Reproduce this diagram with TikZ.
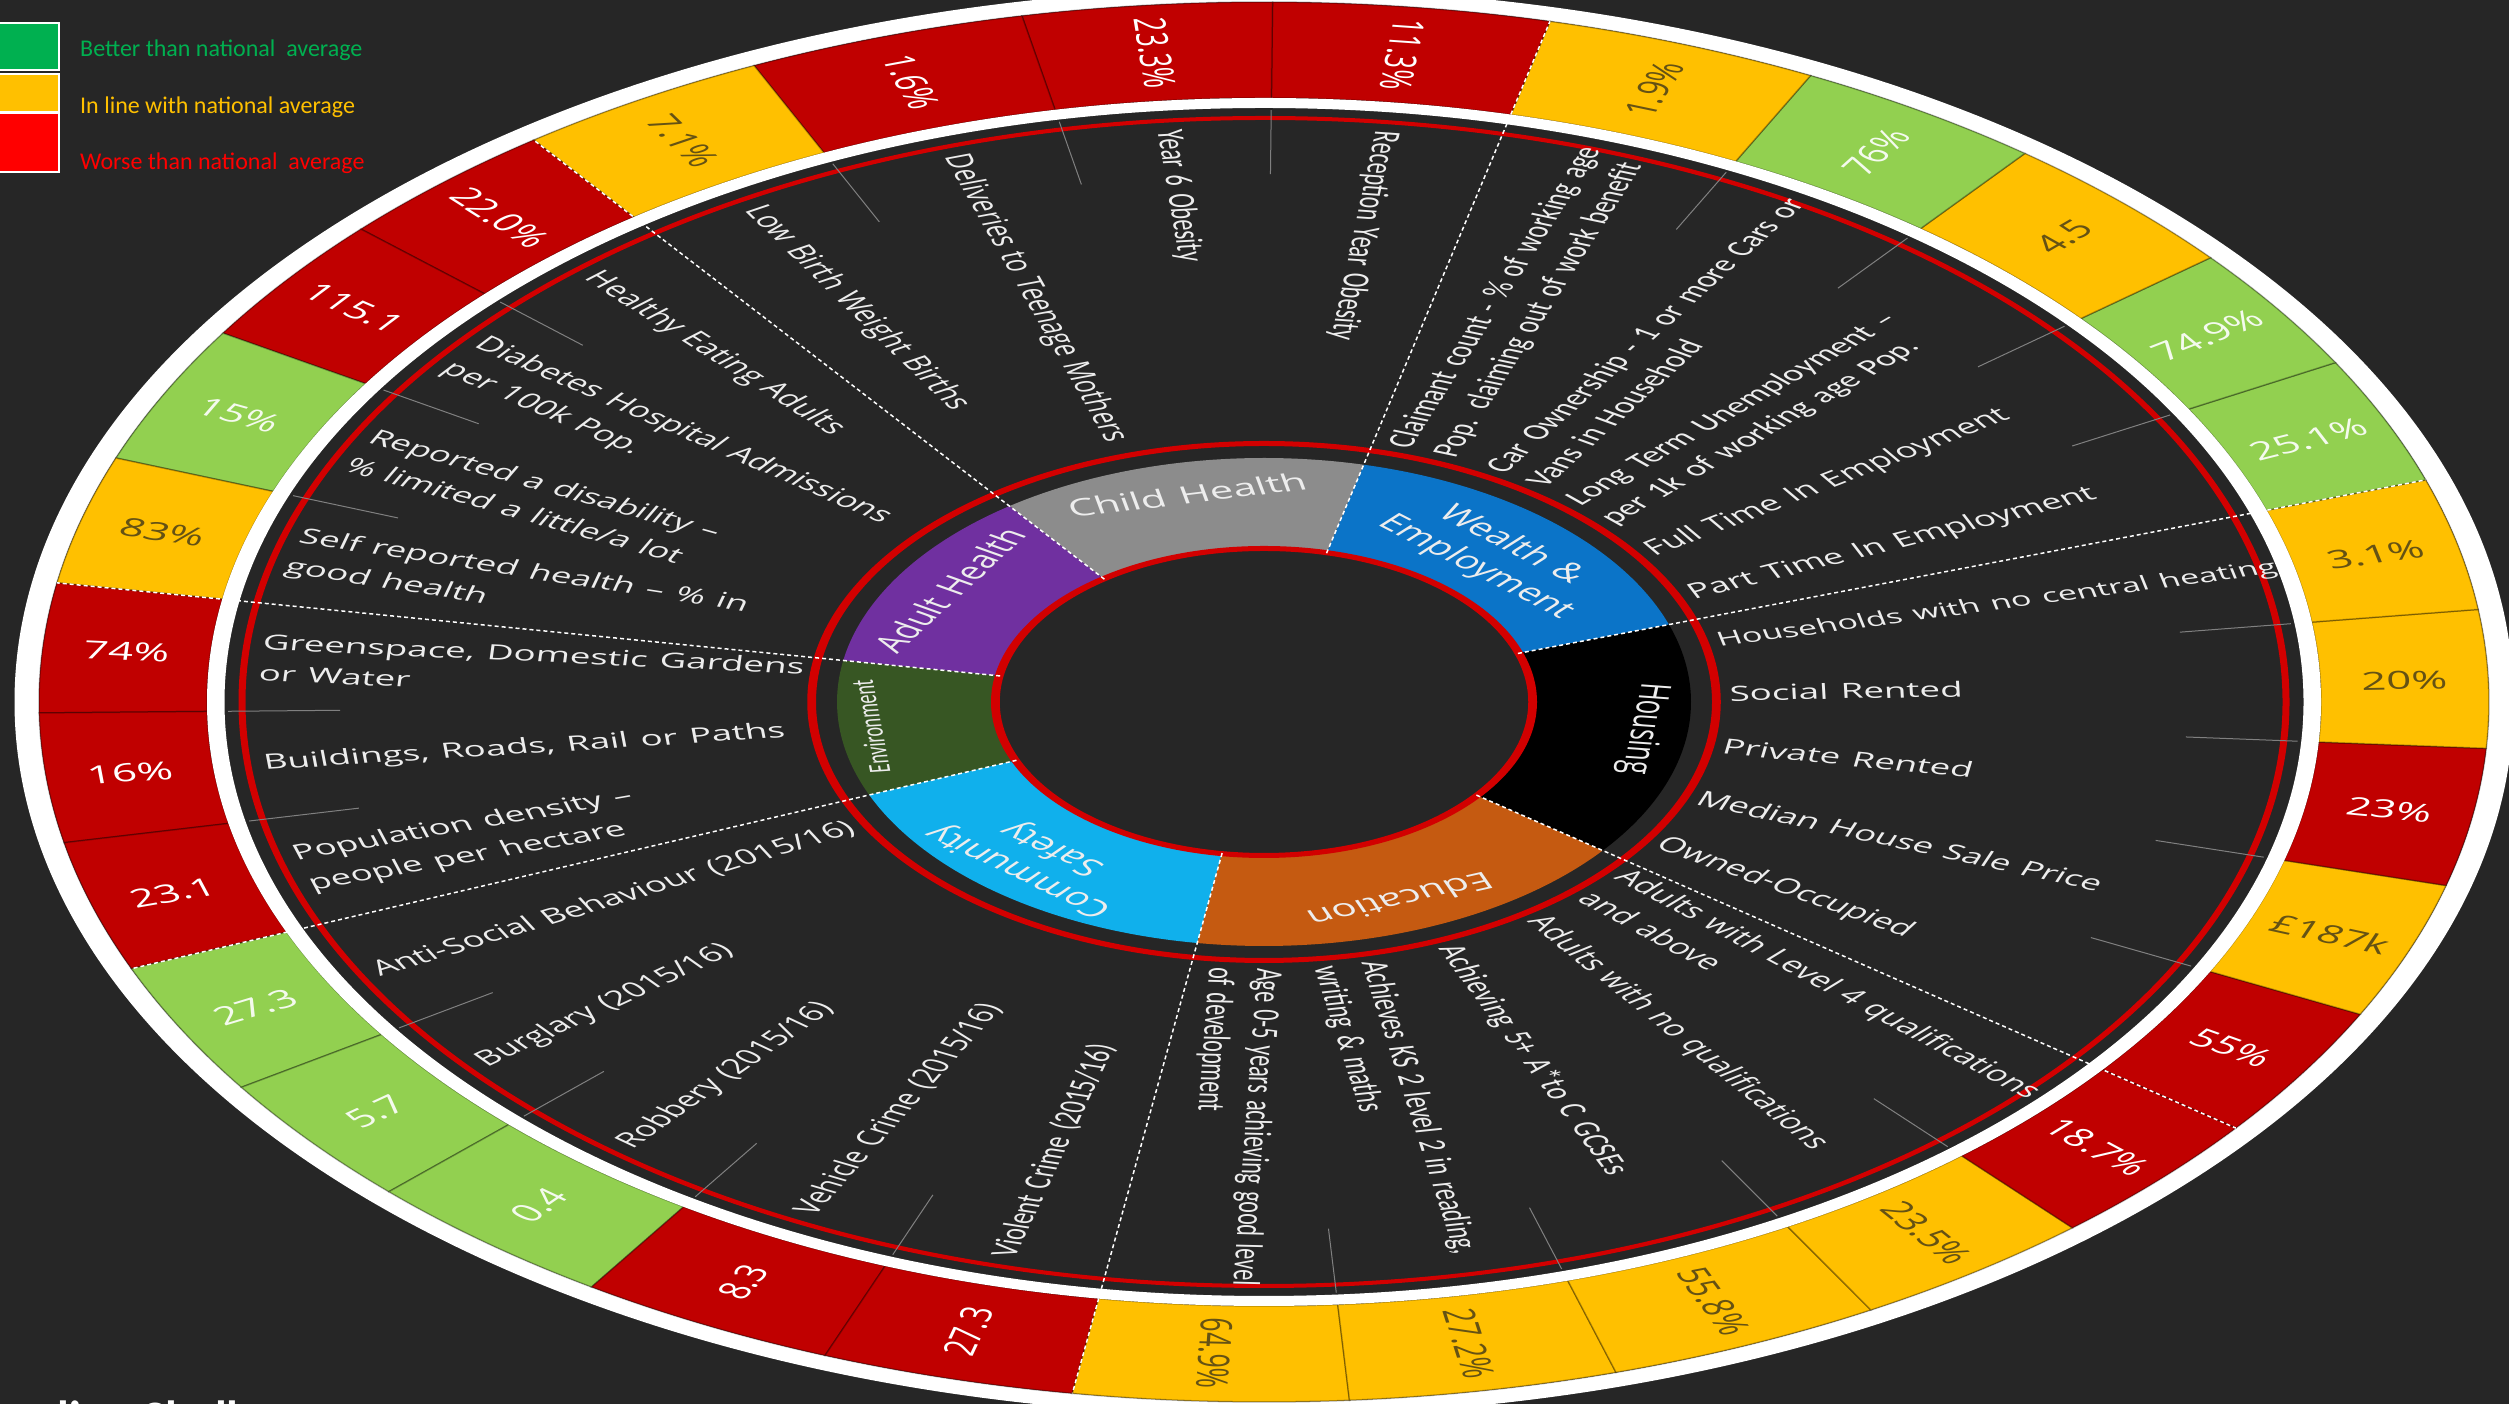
\documentclass[tikz,border=0pt]{standalone}
\usepackage{fontspec}
\setmainfont{Open Sans}
\newfontfamily\calfont{Carlito}
\usetikzlibrary{calc}

\definecolor{bgdark}{HTML}{262626}
\definecolor{ringred}{HTML}{C00000}
\definecolor{ringamber}{HTML}{FFC000}
\definecolor{ringgreen}{HTML}{92D050}
\definecolor{keygreen}{HTML}{00B050}
\definecolor{keyred}{HTML}{FF0000}
\definecolor{linered}{HTML}{D20000}
\definecolor{amberink}{HTML}{655214}
\definecolor{greenink}{HTML}{F4FAEE}
\definecolor{labelgrey}{HTML}{EDEDED}
\definecolor{childgrey}{HTML}{8C8C8C}
\definecolor{wealthblue}{HTML}{0B74C8}
\definecolor{eduorange}{HTML}{C55A11}
\definecolor{safetyblue}{HTML}{10B0EC}
\definecolor{envgreen}{HTML}{375623}
\definecolor{adultpurple}{HTML}{7030A0}

\tikzset{
  segment/.style={draw=black, draw opacity=0.3, line width=1.5pt},
  itemtext/.style={text=labelgrey, inner sep=0pt, text width=400pt, align=left},
  widefont/.style={font=\fontsize{21}{31}\selectfont},
  smallfont/.style={font=\fontsize{19.5}{28}\selectfont},
  narrowfont/.style={font=\calfont\fontsize{22}{27.5}\selectfont},
  valuetext/.style={inner sep=0pt, font=\fontsize{25}{28}\selectfont},
  cattext/.style={inner sep=0pt, text width=170pt, align=center, text=labelgrey, font=\fontsize{24}{30}\selectfont},
  catedge/.style={white, line width=1.5pt, dash pattern=on 4pt off 3pt},
  itemtick/.style={gray, line width=1pt},
  keybox/.style={draw=white, line width=2pt},
  keytext/.style={anchor=west, inner sep=0pt, font=\calfont\fontsize{24}{28}\selectfont},
}

% one wheel item: name, start, end, fill, ink, value, text turn, font, label
\newcommand{\wheelseg}[9]{%
  \filldraw[segment, fill=#4] (#2:604) arc[start angle=#2, end angle=#3, radius=604]
    -- (#3:700) arc[start angle=#3, end angle=#2, radius=700] -- cycle;}
\newcommand{\wheeltext}[9]{%
  \pgfmathsetmacro{\midang}{(#2+#3)/2}%
  \pgfmathsetmacro{\textturn}{\midang+#7}%
  \pgfmathsetmacro{\textrad}{266-309*#7/180}%
  \node[valuetext, text=#5, rotate=\textturn] (val#1) at (\midang:652) {#6};
  \node[itemtext, #8, anchor=west, rotate=\textturn] (item#1) at (\midang:\textrad) {#9};}

\newcommand{\wheeldata}{%
  \wheelitem{owned}{-37.5}{-26.5}{ringred}{white}{55\%}{0}{widefont}{Owned-Occupied}
  \wheelitem{median}{-26.5}{-15.2}{ringamber}{amberink}{£187k}{0}{widefont}{Median House Sale Price}
  \wheelitem{private}{-15.2}{-3.8}{ringred}{white}{23\%}{0}{widefont}{Private Rented}
  \wheelitem{social}{-3.8}{7.6}{ringamber}{amberink}{20\%}{0}{widefont}{Social Rented}
  \wheelitem{heating}{7.6}{18.5}{ringamber}{amberink}{3.1\%}{0}{smallfont}{Households with no central heating}
  \wheelitem{parttime}{18.5}{29}{ringgreen}{greenink}{25.1\%}{0}{widefont}{Part Time In Employment}
  \wheelitem{fulltime}{29}{39.4}{ringgreen}{greenink}{74.9\%}{0}{widefont}{Full Time In Employment}
  \wheelitem{longterm}{39.4}{51.6}{ringamber}{amberink}{4.5}{0}{narrowfont}{Long Term Unemployment –\\per 1k of working age Pop.}
  \wheelitem{cars}{51.6}{63.5}{ringgreen}{greenink}{76\%}{0}{narrowfont}{Car Ownership - 1 or more Cars or\\Vans in Household}
  \wheelitem{claimant}{63.5}{76.5}{ringamber}{amberink}{1.9\%}{0}{narrowfont}{Claimant count - \% of working age\\Pop. claiming out of work benefit}
  \wheelitem{reception}{76.5}{89.6}{ringred}{white}{11.3\%}{-180}{narrowfont}{Reception Year Obesity}
  \wheelitem{yearsix}{89.6}{101.4}{ringred}{white}{23.3\%}{-180}{narrowfont}{Year 6 Obesity}
  \wheelitem{teenage}{101.4}{114.6}{ringred}{white}{1.6\%}{-180}{widefont}{Deliveries to Teenage Mothers}
  \wheelitem{birthweight}{114.6}{126.6}{ringamber}{amberink}{7.1\%}{-180}{widefont}{Low Birth Weight Births}
  \wheelitem{eating}{126.6}{137.5}{ringred}{white}{22.0\%}{-180}{widefont}{Healthy Eating Adults}
  \wheelitem{diabetes}{137.5}{148.2}{ringred}{white}{115.1}{-180}{widefont}{Diabetes Hospital Admissions\\per 100k Pop.}
  \wheelitem{disability}{148.2}{159.6}{ringgreen}{greenink}{15\%}{-180}{widefont}{Reported a disability –\\\% limited a little/a lot}
  \wheelitem{selfhealth}{159.6}{170.2}{ringamber}{amberink}{83\%}{-180}{widefont}{Self reported health – \% in\\good health}
  \wheelitem{greenspace}{170.2}{180.9}{ringred}{white}{74\%}{-180}{widefont}{Greenspace, Domestic Gardens\\or Water}
  \wheelitem{buildings}{180.9}{191.6}{ringred}{white}{16\%}{-180}{widefont}{Buildings, Roads, Rail or Paths}
  \wheelitem{density}{191.6}{202.4}{ringred}{white}{23.1}{-180}{widefont}{Population density –\\people per hectare}
  \wheelitem{antisocial}{202.4}{213.4}{ringgreen}{greenink}{27.3}{-180}{widefont}{Anti-Social Behaviour (2015/16)}
  \wheelitem{burglary}{213.4}{224.4}{ringgreen}{greenink}{5.7}{-180}{widefont}{Burglary (2015/16)}
  \wheelitem{robbery}{224.4}{236.7}{ringgreen}{greenink}{0.4}{-180}{widefont}{Robbery (2015/16)}
  \wheelitem{vehicle}{236.7}{249}{ringred}{white}{8.3}{-180}{widefont}{Vehicle Crime (2015/16)}
  \wheelitem{violent}{249}{261}{ringred}{white}{27.3}{-180}{narrowfont}{Violent Crime (2015/16)}
  \wheelitem{earlyyears}{-99}{-86}{ringamber}{amberink}{64.9\%}{0}{narrowfont}{Age 0-5 years achieving good level\\of development}
  \wheelitem{keystage}{-86}{-73.3}{ringamber}{amberink}{27.2\%}{0}{narrowfont}{Achieves KS 2 level 2 in reading,\\writing \& maths}
  \wheelitem{gcse}{-73.3}{-60.3}{ringamber}{amberink}{55.8\%}{0}{narrowfont}{Achieving 5+ A*to C GCSEs}
  \wheelitem{noquals}{-60.3}{-48.7}{ringamber}{amberink}{23.5\%}{0}{widefont}{Adults with no qualifications}
  \wheelitem{levelfour}{-48.7}{-37.5}{ringred}{white}{18.7\%}{0}{widefont}{Adults with Level 4 qualifications\\and above}%
}

\begin{document}
\begin{tikzpicture}[x=1pt, y=1pt]
  \useasboundingbox (0,0) rectangle (2509,1404);
  \fill[bgdark] (0,0) rectangle (2509,1404);

  % the wheel: drawn round, then pulled wide
  \begin{scope}[shift={(1264,702)}, xscale=1.75, transform shape]
    \fill[white, even odd rule] (0,0) circle[radius=714] circle[radius=700];
    \let\wheelitem\wheelseg
    \wheeldata
    \fill[white, even odd rule] (0,0) circle[radius=604] circle[radius=594];
    \fill[linered, even odd rule] (0,0) circle[radius=586] circle[radius=582];

    % theme ring
    \foreach \ca/\cb/\cc in {18.5/76.5/wealthblue, 76.5/126.6/childgrey, 126.6/170.2/adultpurple,
        170.2/202.4/envgreen, 202.4/261/safetyblue, 261/322.5/eduorange, 322.5/378.5/black} {
      \fill[\cc] (\ca:155) arc[start angle=\ca, end angle=\cb, radius=155]
        -- (\cb:244) arc[start angle=\cb, end angle=\ca, radius=244] -- cycle;
    }
    \fill[linered, even odd rule] (0,0) circle[radius=261] circle[radius=256];
    \fill[bgdark] (0,0) circle[radius=152];
    \fill[linered, even odd rule] (0,0) circle[radius=156] circle[radius=151];

    \foreach \ce in {18.5, 76.5, 126.6, 170.2, 202.4, 261, 322.5}
      \draw[catedge] (\ce:153) -- (\ce:700);
    \foreach \tk in {29, 39.4, 51.6, 63.5, 89.6, 101.4, 114.6, 137.5, 148.2, 159.6, 180.9, 191.6,
        213.4, 224.4, 236.7, 249, 274, 286.7, 299.7, 311.3, 333.5, 344.8, 356.2, 367.6}
      \draw[itemtick] (\tk:528) -- (\tk:592);

    % values and labels
    \let\wheelitem\wheeltext
    \wheeldata

    \node[cattext, rotate=12] (childcat) at (102:212) {Child Health};
    \node[cattext, rotate=-42] (wealthcat) at (48:196) {Wealth \&\\Employment};
    \node[cattext, rotate=-97] (housingcat) at (-7:218) {Housing};
    \node[cattext, rotate=-158.5] (educat) at (-68.5:213) {Education};
    \node[cattext, rotate=140.5] (safetycat) at (230.5:204) {Community\\Safety};
    \node[cattext, rotate=96.3, font=\calfont\fontsize{18}{20}\selectfont] (envcat) at (186.3:226) {Environment};
    \node[cattext, rotate=58] (adultcat) at (148:212) {Adult Health};
  \end{scope}

  % key
  \draw[keybox, fill=keygreen] (-5,1334) rectangle (59,1381);
  \draw[keybox, fill=ringamber] (-5,1292) rectangle (59,1330);
  \draw[keybox, fill=keyred] (-5,1232) rectangle (59,1291);
  \node[keytext, text=keygreen] (keybetter) at (80,1354) {Better than national\ \ average};
  \node[keytext, text=ringamber] (keysame) at (80,1297) {In line with national average};
  \node[keytext, text=keyred] (keyworse) at (80,1241) {Worse than national\ \ average};

  \node[anchor=base west, inner sep=0pt, text=white, font=\calfont\bfseries\fontsize{48}{52}\selectfont]
    (heading) at (57,-31) {ling Chall};
\end{tikzpicture}
\end{document}
